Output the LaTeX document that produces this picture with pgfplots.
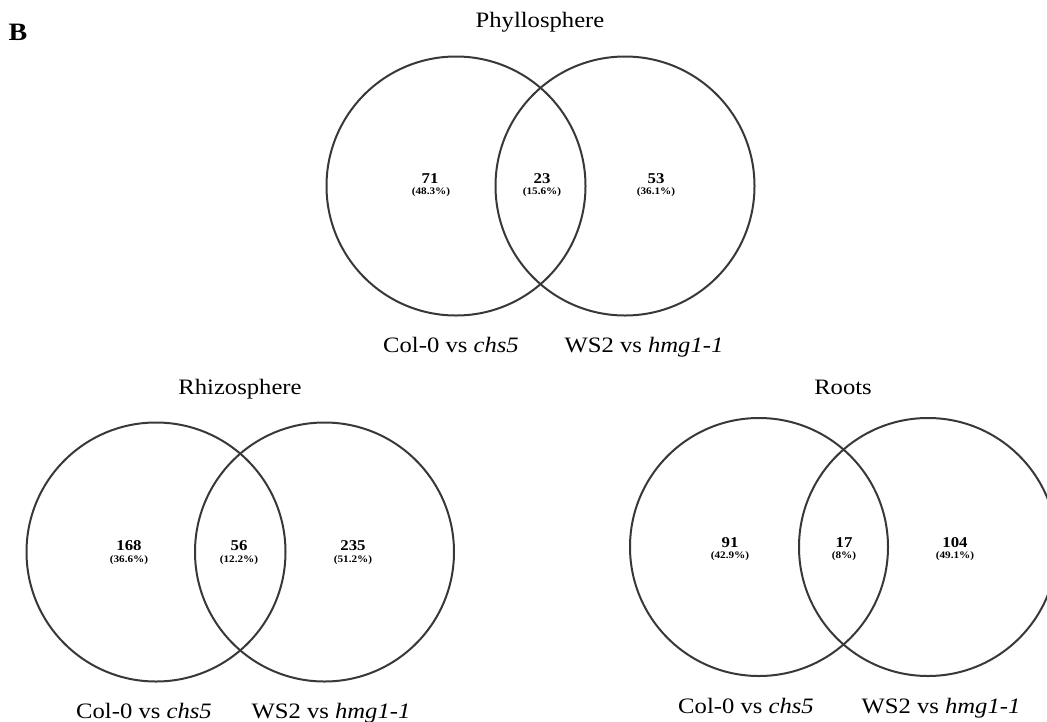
\documentclass[border=0pt]{standalone}
\usepackage{fontspec}
\setmainfont{Liberation Serif}[FakeStretch=1.12]
\usepackage{pgfplots}
\pgfplotsset{compat=1.18}
\begin{document}
\begin{tikzpicture}
\begin{axis}[
  scale only axis, width=1047pt, height=721pt,
  xmin=0, xmax=1047, ymin=0, ymax=721, y dir=reverse,
  axis lines=none, ticks=none, clip=true, clip marker paths=true,
]
% circles: centres in pixel coordinates, radius as mark size
\addplot[only marks, mark=o, mark size=129.5pt, mark options={line width=2pt, draw=black!78}]
  coordinates {(456,186) (625,186) (156,552) (324.5,552)};
\addplot[only marks, mark=o, mark size=129pt, mark options={line width=2pt, draw=black!78}]
  coordinates {(759,547) (928,547)};
% panel letter and titles
\node[font=\fontsize{25}{27}\selectfont\bfseries, anchor=base] at (axis cs:18,40) {B};
\node[font=\fontsize{22}{24}\selectfont, anchor=base] at (axis cs:540,27) {Phyllosphere};
\node[font=\fontsize{22}{24}\selectfont, anchor=base] at (axis cs:240,394) {Rhizosphere};
\node[font=\fontsize{22}{24}\selectfont, anchor=base] at (axis cs:843,394) {Roots};
% set labels
\node[font=\fontsize{22}{24}\selectfont, anchor=base] at (axis cs:451,352) {Col-0 vs \textit{chs5}};
\node[font=\fontsize{22}{24}\selectfont, anchor=base] at (axis cs:644,352) {WS2 vs \textit{hmg1-1}};
\node[font=\fontsize{22}{24}\selectfont, anchor=base] at (axis cs:144,718) {Col-0 vs \textit{chs5}};
\node[font=\fontsize{22}{24}\selectfont, anchor=base] at (axis cs:331,718) {WS2 vs \textit{hmg1-1}};
\node[font=\fontsize{22}{24}\selectfont, anchor=base] at (axis cs:746,713) {Col-0 vs \textit{chs5}};
\node[font=\fontsize{22}{24}\selectfont, anchor=base] at (axis cs:941,713) {WS2 vs \textit{hmg1-1}};
% counts
\begin{scope}[every node/.style={font=\fontsize{15}{16}\selectfont\bfseries}]
\node at (axis cs:430,179) {71};
\node at (axis cs:542,179) {23};
\node at (axis cs:656,179) {53};
\node at (axis cs:129,546) {168};
\node at (axis cs:239,546) {56};
\node at (axis cs:353,546) {235};
\node at (axis cs:730,543) {91};
\node at (axis cs:844,543) {17};
\node at (axis cs:955,543) {104};
\end{scope}
\begin{scope}[every node/.style={font=\fontsize{10}{11}\selectfont\bfseries}]
\node at (axis cs:431,192) {(48.3\%)};
\node at (axis cs:542,192) {(15.6\%)};
\node at (axis cs:656,192) {(36.1\%)};
\node at (axis cs:129,560) {(36.6\%)};
\node at (axis cs:239,560) {(12.2\%)};
\node at (axis cs:353,560) {(51.2\%)};
\node at (axis cs:730,556) {(42.9\%)};
\node at (axis cs:844,556) {(8\%)};
\node at (axis cs:955,556) {(49.1\%)};
\end{scope}
\end{axis}
\pgfresetboundingbox
\path (current axis.south west) rectangle (current axis.north east);
\end{tikzpicture}
\end{document}
